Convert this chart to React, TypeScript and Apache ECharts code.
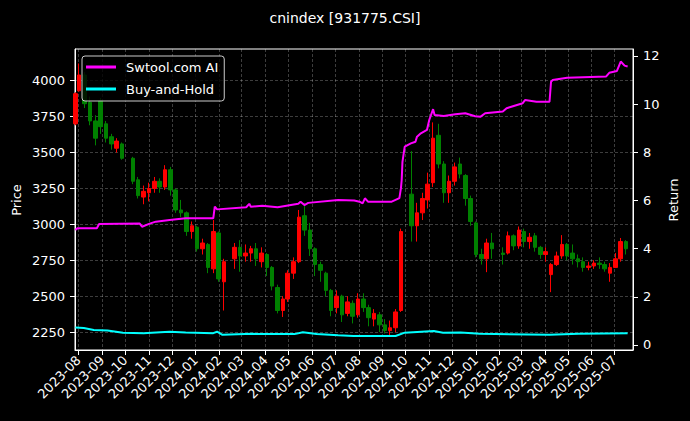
import React, { useEffect, useRef } from 'react';
import * as echarts from 'echarts';

// Weekly candles (date = mid-week)
const weekDates = [
  '2023-07-28', '2023-08-02', '2023-08-09', '2023-08-16', '2023-08-23', '2023-08-30', '2023-09-06', '2023-09-13',
  '2023-09-20', '2023-09-27', '2023-10-11', '2023-10-18', '2023-10-25', '2023-11-01', '2023-11-08', '2023-11-15',
  '2023-11-22', '2023-11-29', '2023-12-06', '2023-12-13', '2023-12-20', '2023-12-27', '2024-01-03', '2024-01-10',
  '2024-01-17', '2024-01-24', '2024-01-31', '2024-02-07', '2024-02-21', '2024-02-28', '2024-03-06', '2024-03-13',
  '2024-03-20', '2024-03-27', '2024-04-03', '2024-04-10', '2024-04-17', '2024-04-24', '2024-04-30', '2024-05-08',
  '2024-05-15', '2024-05-22', '2024-05-29', '2024-06-05', '2024-06-12', '2024-06-19', '2024-06-26', '2024-07-03',
  '2024-07-10', '2024-07-17', '2024-07-24', '2024-07-31', '2024-08-07', '2024-08-14', '2024-08-21', '2024-08-28',
  '2024-09-04', '2024-09-11', '2024-09-18', '2024-09-25', '2024-10-09', '2024-10-16', '2024-10-23', '2024-10-30',
  '2024-11-06', '2024-11-13', '2024-11-20', '2024-11-27', '2024-12-04', '2024-12-11', '2024-12-18', '2024-12-25',
  '2025-01-01', '2025-01-08', '2025-01-15', '2025-01-22', '2025-02-05', '2025-02-12', '2025-02-19', '2025-02-26',
  '2025-03-05', '2025-03-12', '2025-03-19', '2025-03-26', '2025-04-02', '2025-04-09', '2025-04-16', '2025-04-23',
  '2025-04-30', '2025-05-07', '2025-05-14', '2025-05-21', '2025-05-28', '2025-06-04', '2025-06-11', '2025-06-18',
  '2025-06-25', '2025-07-02', '2025-07-09', '2025-07-16',
];
const opens = [
  3700, 3930, 4040, 3850, 3720, 3860, 3700, 3610, 3530, 3560, 3460, 3310, 3190, 3220, 3250, 3300,
  3260, 3380, 3240, 3100, 3080, 2950, 2980, 2830, 2860, 2690, 2940, 2600, 2760, 2840, 2780, 2800,
  2830, 2740, 2790, 2700, 2560, 2400, 2480, 2660, 2740, 3060, 2960, 2830, 2720, 2660, 2540, 2420,
  2500, 2380, 2450, 2370, 2480, 2420, 2340, 2370, 2300, 2260, 2280, 2400, 3210, 2990, 3080, 3170,
  3290, 3620, 3420, 3220, 3300, 3420, 3340, 3180, 3010, 2790, 2760, 2870, 2800, 2800, 2920, 2850,
  2950, 2880, 2920, 2840, 2790, 2650, 2720, 2780, 2860, 2800, 2760, 2740, 2700, 2710, 2730, 2720,
  2660, 2700, 2760, 2880,
];
const closes = [
  3910, 4040, 3840, 3720, 3600, 3680, 3600, 3560, 3580, 3460, 3300, 3200, 3230, 3250, 3300, 3260,
  3380, 3240, 3100, 3080, 2950, 2990, 2830, 2870, 2700, 2950, 2620, 2740, 2840, 2780, 2800, 2830,
  2760, 2800, 2700, 2570, 2400, 2480, 2660, 2740, 3050, 2960, 2830, 2720, 2680, 2540, 2400, 2500,
  2370, 2460, 2360, 2480, 2420, 2350, 2380, 2300, 2260, 2280, 2390, 2950, 2990, 3080, 3180, 3280,
  3600, 3420, 3220, 3300, 3400, 3350, 3180, 3020, 2790, 2760, 2870, 2830, 2790, 2920, 2850, 2960,
  2880, 2910, 2840, 2790, 2810, 2720, 2780, 2860, 2780, 2760, 2740, 2700, 2710, 2730, 2720, 2690,
  2700, 2760, 2880, 2830,
];
const lows = [
  3690, 3925, 3810, 3690, 3550, 3630, 3570, 3520, 3500, 3450, 3280, 3180, 3140, 3160, 3220, 3220,
  3240, 3200, 3080, 3050, 2920, 2900, 2810, 2790, 2660, 2660, 2600, 2400, 2690, 2670, 2740, 2740,
  2710, 2700, 2640, 2540, 2380, 2355, 2460, 2620, 2730, 2920, 2780, 2640, 2600, 2500, 2360, 2380,
  2320, 2360, 2310, 2350, 2390, 2290, 2290, 2250, 2240, 2222, 2250, 2390, 2880, 2880, 3030, 3110,
  3260, 3390, 3150, 3150, 3270, 3320, 3130, 2990, 2770, 2720, 2667, 2760, 2720, 2790, 2820, 2830,
  2840, 2830, 2810, 2760, 2740, 2528, 2710, 2760, 2750, 2720, 2700, 2670, 2680, 2690, 2690, 2670,
  2600, 2700, 2740, 2790,
];
const highs = [
  3920, 4120, 4060, 3890, 3760, 3880, 3720, 3630, 3600, 3570, 3470, 3330, 3270, 3290, 3330, 3320,
  3412, 3400, 3250, 3170, 3090, 3020, 2990, 2900, 2870, 3030, 2950, 2760, 2870, 2890, 2860, 2850,
  2870, 2840, 2800, 2710, 2580, 2500, 2680, 2770, 3100, 3150, 3010, 2840, 2740, 2670, 2550, 2540,
  2510, 2500, 2470, 2520, 2520, 2440, 2410, 2390, 2340, 2330, 2410, 2970, 3510, 3150, 3220, 3360,
  3710, 3700, 3440, 3340, 3430, 3465, 3350, 3200, 3020, 2830, 2900, 2940, 2840, 2950, 2930, 2985,
  2970, 2940, 2940, 2850, 2840, 2730, 2810, 2925, 2870, 2860, 2790, 2770, 2740, 2750, 2770, 2740,
  2730, 2800, 2905, 2890,
];

// Strategy curve (Swtool.com AI)
const aiDates = [
  '2023-07-28', '2023-07-31', '2023-08-25', '2023-08-28', '2023-10-20', '2023-10-23', '2023-11-02', '2023-11-10',
  '2023-11-28', '2023-12-19', '2024-01-24', '2024-01-26', '2024-01-29', '2024-03-07', '2024-03-11', '2024-03-13',
  '2024-03-28', '2024-04-17', '2024-05-14', '2024-05-17', '2024-05-22', '2024-05-27', '2024-07-05', '2024-07-26',
  '2024-08-02', '2024-08-06', '2024-08-09', '2024-08-13', '2024-09-13', '2024-09-23', '2024-09-25', '2024-09-26',
  '2024-09-27', '2024-09-30', '2024-10-08', '2024-10-14', '2024-10-16', '2024-10-21', '2024-10-29', '2024-11-01',
  '2024-11-06', '2024-11-08', '2024-11-20', '2024-12-05', '2024-12-18', '2024-12-31', '2025-01-07', '2025-01-13',
  '2025-02-05', '2025-02-10', '2025-02-14', '2025-03-03', '2025-03-06', '2025-03-21', '2025-04-07', '2025-04-09',
  '2025-04-11', '2025-04-30', '2025-06-20', '2025-06-24', '2025-07-04', '2025-07-09', '2025-07-14', '2025-07-18',
];
const aiReturns = [
  4.78, 4.85, 4.85, 5.02, 5.04, 4.91, 5.04, 5.12,
  5.19, 5.26, 5.26, 5.74, 5.63, 5.72, 5.86, 5.74,
  5.78, 5.72, 5.86, 5.95, 5.81, 5.9, 6.02, 6.0,
  5.95, 5.88, 6.09, 5.95, 5.95, 6.1, 6.5, 6.85,
  7.6, 8.24, 8.37, 8.44, 8.65, 8.79, 8.93, 9.34,
  9.79, 9.55, 9.51, 9.58, 9.62, 9.5, 9.48, 9.62,
  9.69, 9.83, 9.87, 10.04, 10.17, 10.1, 10.1, 10.93,
  11.0, 11.1, 11.15, 11.3, 11.38, 11.77, 11.6, 11.56,
];

// Buy-and-Hold curve
const bhDates = [
  '2023-07-28', '2023-08-08', '2023-08-21', '2023-09-08', '2023-09-28', '2023-10-25', '2023-11-16', '2023-11-28',
  '2023-12-19', '2024-01-24', '2024-01-29', '2024-02-05', '2024-03-15', '2024-05-09', '2024-05-20', '2024-06-07',
  '2024-07-05', '2024-07-25', '2024-09-18', '2024-09-30', '2024-11-07', '2024-11-19', '2024-12-12', '2025-01-06',
  '2025-04-07', '2025-05-15', '2025-07-18',
];
const bhReturns = [
  0.72, 0.70, 0.62, 0.60, 0.51, 0.49, 0.53, 0.55,
  0.52, 0.49, 0.55, 0.42, 0.46, 0.45, 0.53, 0.45,
  0.40, 0.37, 0.37, 0.51, 0.58, 0.51, 0.52, 0.46,
  0.42, 0.46, 0.49,
];

const monthLabels = [
  '2023-08', '2023-09', '2023-10', '2023-11', '2023-12', '2024-01', '2024-02', '2024-03', '2024-04', '2024-05',
  '2024-06', '2024-07', '2024-08', '2024-09', '2024-10', '2024-11', '2024-12', '2025-01', '2025-02', '2025-03',
  '2025-04', '2025-05', '2025-06', '2025-07',
];
const priceTicks = [2250, 2500, 2750, 3000, 3250, 3500, 3750, 4000];
const returnTicks = [0, 2, 4, 6, 8, 10, 12];

const toTime = (s: string) => {
  const [y, m, d] = s.split('-').map(Number);
  return Date.UTC(y, m - 1, d || 1);
};

export default function App() {
  const ref = useRef<HTMLDivElement>(null);
  useEffect(() => {
    if (!ref.current) return;
    const chart = echarts.init(ref.current, null, { renderer: 'svg' });
    const font = 'DejaVu Sans';
    const monthTicks = monthLabels.map((m) => toTime(m));
    const labelOf: Record<number, string> = {};
    monthLabels.forEach((m, i) => { labelOf[monthTicks[i]] = m; });
    const candleData = weekDates.map((d, i) => [toTime(d), opens[i], closes[i], lows[i], highs[i]]);
    const gridLine = { show: true, lineStyle: { color: 'rgba(255,255,255,0.3)', type: [3, 2] as any, width: 0.8 } };
    chart.setOption({
      animation: false,
      backgroundColor: '#000',
      textStyle: { fontFamily: font },
      title: {
        text: 'cnindex [931775.CSI]',
        left: 'center',
        top: 6,
        textStyle: { color: '#fff', fontSize: 14, fontWeight: 'normal', fontFamily: font },
      },
      graphic: [
        {
          type: 'text',
          x: 16,
          y: 200,
          rotation: Math.PI / 2,
          style: { text: 'Price', fill: '#fff', font: '13px "DejaVu Sans"', textAlign: 'center', textVerticalAlign: 'middle' },
        },
        {
          type: 'text',
          x: 673,
          y: 200,
          rotation: Math.PI / 2,
          style: { text: 'Return', fill: '#fff', font: '13px "DejaVu Sans"', textAlign: 'center', textVerticalAlign: 'middle' },
        },
      ],
      legend: {
        data: ['Swtool.com AI', 'Buy-and-Hold'],
        orient: 'vertical',
        left: 82,
        top: 56,
        icon: 'rect',
        itemWidth: 30,
        itemHeight: 3,
        itemGap: 8,
        padding: [4, 6, 5, 4],
        borderColor: '#cccccc',
        borderWidth: 1,
        borderRadius: 3,
        backgroundColor: 'rgba(0,0,0,0.8)',
        textStyle: { color: '#fff', fontSize: 13, fontFamily: font, lineHeight: 14, padding: [0, 0, 0, 5] },
      },
      grid: { left: 75, right: 57, top: 49, bottom: 71, show: true, borderColor: '#fff', borderWidth: 1, outerBoundsMode: 'none' },
      xAxis: {
        type: 'value',
        min: toTime('2023-07-27') + 12 * 3600 * 1000,
        max: toTime('2025-07-25'),
        axisLine: { show: true, onZero: false, lineStyle: { color: '#fff' } },
        axisTick: { show: true, customValues: monthTicks, length: 5, lineStyle: { color: '#fff' } },
        axisLabel: {
          customValues: monthTicks,
          formatter: (v: number) => labelOf[v] || '',
          rotate: 45,
          color: '#fff',
          fontSize: 13,
          fontFamily: font,
          margin: 8,
          hideOverlap: false,
          showMinLabel: true,
          showMaxLabel: true,
        },
        splitLine: gridLine,
      },
      yAxis: [
        {
          type: 'value',
          position: 'left',
          min: 2125,
          max: 4221,
          axisLine: { show: true, lineStyle: { color: '#fff' } },
          axisTick: { show: true, customValues: priceTicks, length: 5, lineStyle: { color: '#fff' } },
          axisLabel: {
            customValues: priceTicks,
            formatter: (v: number) => String(v),
            color: '#fff',
            fontSize: 13,
            fontFamily: font,
            margin: 10,
          },
          splitLine: gridLine,
        },
        {
          type: 'value',
          position: 'right',
          min: -0.21,
          max: 12.29,
          axisLine: { show: true, lineStyle: { color: '#fff' } },
          axisTick: { show: true, customValues: returnTicks, length: 5, lineStyle: { color: '#fff' } },
          axisLabel: {
            customValues: returnTicks,
            formatter: (v: number) => String(v),
            color: '#fff',
            fontSize: 13,
            fontFamily: font,
            margin: 10,
          },
          splitLine: { show: false },
        },
      ],
      series: [
        {
          type: 'candlestick',
          name: 'Price',
          xAxisIndex: 0,
          yAxisIndex: 0,
          data: candleData,
          encode: { x: 0, y: [1, 2, 3, 4] },
          barWidth: 4,
          itemStyle: {
            color: '#ff0000',
            color0: '#008000',
            borderColor: '#ff0000',
            borderColor0: '#008000',
            borderWidth: 1,
          },
        },
        {
          type: 'line',
          name: 'Swtool.com AI',
          yAxisIndex: 1,
          data: aiDates.map((d, i) => [toTime(d), aiReturns[i]]),
          showSymbol: false,
          lineStyle: { color: '#ff00ff', width: 2 },
          itemStyle: { color: '#ff00ff' },
        },
        {
          type: 'line',
          name: 'Buy-and-Hold',
          yAxisIndex: 1,
          data: bhDates.map((d, i) => [toTime(d), bhReturns[i]]),
          showSymbol: false,
          lineStyle: { color: '#00ffff', width: 2 },
          itemStyle: { color: '#00ffff' },
        },
      ],
    });
    return () => chart.dispose();
  }, []);
  return (
    <div
      ref={ref}
      style={{ position: 'fixed', left: 0, top: 0, width: 690, height: 421, background: '#000' }}
    />
  );
}
